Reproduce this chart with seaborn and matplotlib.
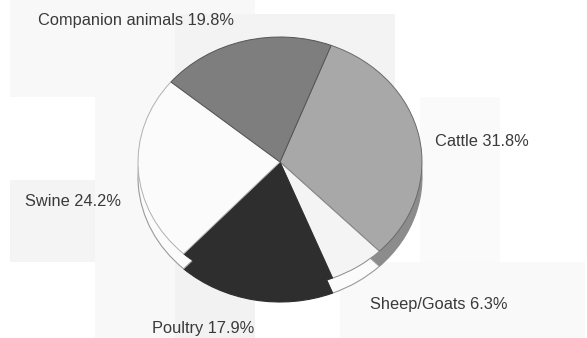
import matplotlib
matplotlib.use("Agg")
import matplotlib.pyplot as plt
from matplotlib.patches import Rectangle
import seaborn as sns

categories = ["Cattle", "Sheep/Goats", "Poultry", "Swine", "Companion animals"]
shares = [31.8, 6.3, 17.9, 24.2, 19.8]
fills = ["#a8a8a8", "#f4f4f4", "#2e2e2e", "#fbfbfb", "#7e7e7e"]
wall_fills = ["#8c8c8c", "#fbfbfb", "#2e2e2e", "#fbfbfb", "#7e7e7e"]
top_edges = ["#6a6a6a", "#8a8a8a", "#2e2e2e", "#b0b0b0", "#555555"]
wall_edges = ["#8a8a8a", "#9a9a9a", "#2e2e2e", "#9a9a9a", "#7e7e7e"]

W, H = 587, 338
CX, CY, RX, RY, DEPTH = 280, 162, 142, 125, 15

sns.set_theme(style="white")
plt.rcParams["font.family"] = ["Liberation Sans", "DejaVu Sans"]

fig = plt.figure(figsize=(W / 100, H / 100), dpi=100, facecolor="white")

# faint block tiles behind the chart
tiles = [
    (10, 0, 245, 97, "#f8f8f8"), (175, 14, 220, 83, "#f3f3f3"),
    (95, 97, 80, 241, "#f8f8f8"), (10, 180, 85, 82, "#f4f4f4"),
    (175, 262, 80, 76, "#f2f2f2"),
    (420, 97, 80, 165, "#fafafa"),
    (340, 262, 245, 76, "#f9f9f9"),
]
for x, y, w, h, c in tiles:
    fig.add_artist(Rectangle((x / W, 1 - (y + h) / H), w / W, h / H,
                             transform=fig.transFigure, fc=c, ec="none", zorder=0))

ax = fig.add_axes([0, 0, 1, 1])
ax.patch.set_alpha(0)
start = 68.9
walls, _ = ax.pie(shares, colors=wall_fills, startangle=start, counterclock=False,
                  center=(0, -DEPTH / RY), wedgeprops=dict(linewidth=0.8))
for wedge, edge in zip(walls, wall_edges):
    wedge.set_edgecolor(edge)
tops, _ = ax.pie(shares, colors=fills, startangle=start, counterclock=False,
                 wedgeprops=dict(linewidth=0.7))
for wedge, edge in zip(tops, top_edges):
    wedge.set_edgecolor(edge)
ax.set_aspect("auto")
ax.set_xlim(-CX / RX, (W - CX) / RX)
ax.set_ylim((CY - H) / RY, CY / RY)
ax.axis("off")

label_px = [(435, 142), (370, 305), (152, 328), (25, 201), (38, 20)]
for cat, val, (x, y) in zip(categories, shares, label_px):
    fig.text(x / W, 1 - y / H, f"{cat} {val}%", fontsize=11.8, color="#3a3a3a",
             ha="left", va="center")

fig.savefig("out.png", dpi=100, facecolor="white")
